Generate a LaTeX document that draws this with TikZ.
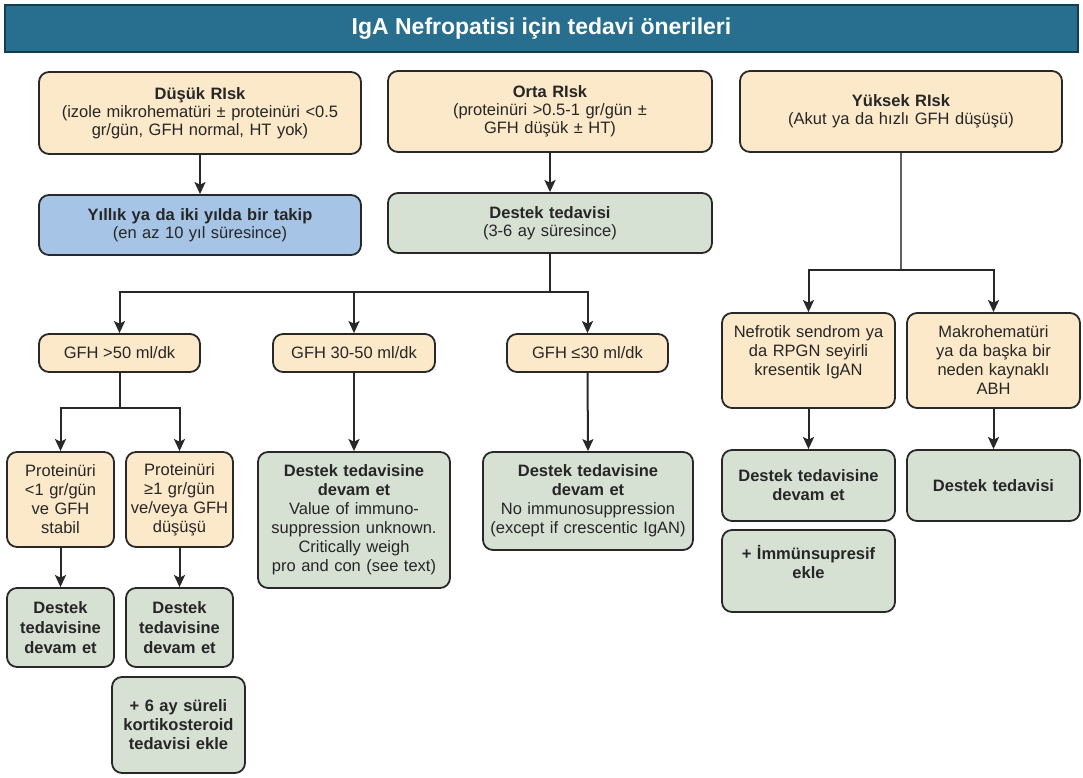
\documentclass[tikz,border=0pt]{standalone}
\usepackage{fontspec}
\setmainfont{Liberation Sans}
\usetikzlibrary{arrows.meta}
\definecolor{titlebg}{RGB}{40,111,143}
\definecolor{peach}{RGB}{252,233,202}
\definecolor{sage}{RGB}{214,225,212}
\definecolor{skyb}{RGB}{166,196,230}
\definecolor{edge}{RGB}{40,40,40}
\definecolor{txt}{RGB}{38,38,38}
\tikzset{
  box/.style={draw=edge, line width=1.8pt, rounded corners=10pt, align=center, inner sep=2pt, text=txt, font=\fontsize{16.5}{19}\selectfont},
  pbox/.style={box, fill=peach},
  gbox/.style={box, fill=sage},
  bbox/.style={box, fill=skyb},
  arr/.style={line width=2pt, draw=edge, -{Stealth[length=12pt,width=11pt,inset=2.5pt]}},
  ln/.style={line width=2pt, draw=edge},
}
\begin{document}
\begin{tikzpicture}[x=1pt,y=-1pt]
\useasboundingbox (0,0) rectangle (1083,778);
% title
\node[fill=titlebg, draw=titlebg!55!black, line width=1.2pt, minimum width=1073pt, minimum height=47pt, text=white, font=\fontsize{23}{25}\selectfont\bfseries] (title) at (541.5,28.5) {IgA Nefropatisi için tedavi önerileri};
% top row
\node[pbox, minimum width=322pt, minimum height=82pt, text width=314pt, font=\fontsize{16.5}{18}\selectfont] (low) at (200,113) {\textbf{Düşük RIsk}\\(izole mikrohematüri ± proteinüri <0.5\\gr/gün, GFH normal, HT yok)};
\node[pbox, minimum width=324pt, minimum height=81pt, text width=314pt, font=\fontsize{16.5}{18}\selectfont] (mid) at (550,111.5) {\textbf{Orta RIsk}\\(proteinüri >0.5-1 gr/gün ±\\GFH düşük ± HT)};
\node[pbox, minimum width=322pt, minimum height=81pt, text width=314pt, font=\fontsize{16.5}{18}\selectfont] (high) at (901,111.5) {\textbf{Yüksek RIsk}\\(Akut ya da hızlı GFH düşüşü)};
% second row
\node[bbox, minimum width=322pt, minimum height=60pt, text width=314pt, font=\fontsize{16.5}{18}\selectfont] (follow) at (200,225) {\textbf{Yıllık ya da iki yılda bir takip}\\(en az 10 yıl süresince)};
\node[gbox, minimum width=324pt, minimum height=60pt, text width=314pt, font=\fontsize{16.5}{18}\selectfont] (support) at (550,223) {\textbf{Destek tedavisi}\\(3-6 ay süresince)};
% GFH row
\node[pbox, minimum width=161pt, minimum height=38pt] (gfh1) at (119.5,353) {GFH >50 ml/dk};
\node[pbox, minimum width=162pt, minimum height=38pt] (gfh2) at (354,353) {GFH 30-50 ml/dk};
\node[pbox, minimum width=161pt, minimum height=38pt] (gfh3) at (587.5,353) {GFH ≤30 ml/dk};
% left branch
\node[pbox, minimum width=105pt, minimum height=95pt, text width=103pt] (p1) at (60.5,499.5) {Proteinüri\\<1 gr/gün\\ve GFH\\stabil};
\node[pbox, minimum width=105pt, minimum height=95pt, text width=103pt] (p2) at (179.5,499.5) {Proteinüri\\≥1 gr/gün\\ve/veya GFH\\düşüşü};
\node[gbox, minimum width=105pt, minimum height=79pt, text width=103pt, font=\fontsize{16.5}{20}\selectfont\bfseries] (d1) at (60.5,627.5) {Destek\\tedavisine\\devam et};
\node[gbox, minimum width=105pt, minimum height=79pt, text width=103pt, font=\fontsize{16.5}{20}\selectfont\bfseries] (d2) at (179.5,627.5) {Destek\\tedavisine\\devam et};
\node[gbox, minimum width=133pt, minimum height=96pt, text width=128pt, font=\fontsize{16.5}{19}\selectfont\bfseries] (cort) at (178.5,725) {+ 6 ay süreli\\kortikosteroid\\tedavisi ekle};
% middle
\node[gbox, minimum width=192pt, minimum height=136pt, text width=188pt] (dm) at (354,520) {\textbf{Destek tedavisine}\\\textbf{devam et}\\Value of immuno-\\suppression unknown.\\Critically weigh\\pro and con (see text)};
\node[gbox, minimum width=210pt, minimum height=98pt, text width=205pt] (dl) at (588,501) {\textbf{Destek tedavisine}\\\textbf{devam et}\\No immunosuppression\\(except if crescentic IgAN)};
% right branch
\node[pbox, minimum width=173pt, minimum height=95pt, text width=168pt] (nef) at (808.5,360.5) {Nefrotik sendrom ya\\da RPGN seyirli\\kresentik IgAN\\\mbox{}};
\node[pbox, minimum width=173pt, minimum height=95pt, text width=168pt] (mak) at (993.5,360.5) {Makrohematüri\\ya da başka bir\\neden kaynaklı\\ABH};
\node[gbox, minimum width=173pt, minimum height=71pt, text width=168pt] (dn) at (808.5,485.5) {\textbf{Destek tedavisine}\\\textbf{devam et}};
\node[gbox, minimum width=173pt, minimum height=82pt, text width=168pt] (imm) at (808.5,571) {\textbf{+ İmmünsupresif}\\\textbf{ekle}\\\mbox{}};
\node[gbox, minimum width=173pt, minimum height=71pt, text width=168pt] (dmk) at (993.5,485.5) {\textbf{Destek tedavisi}};
% junctions
\coordinate (j1) at (550,292);
\coordinate (j2) at (119.5,408);
\coordinate (j3) at (901,270);
% connectors
\draw[arr] (low.south) -- (follow.north);
\draw[arr] (mid.south) -- (support.north);
\draw[ln] (support.south) -- (j1);
\draw[arr] (j1) -| (gfh1.north);
\draw[arr] (j1) -| (gfh3.north);
\draw[arr] (gfh2.north |- j1) -- (gfh2.north);
\draw[ln] (gfh1.south) -- (j2);
\draw[arr] (j2) -| (p1.north);
\draw[arr] (j2) -| (p2.north);
\draw[arr] (p1.south) -- (d1.north);
\draw[arr] (p2.south) -- (d2.north);
\draw[arr] (gfh2.south) -- (dm.north);
\draw[arr] (gfh3.south) -- (dl.north);
\draw[line width=1.4pt, draw=gray!75!black] (high.south) -- (j3);
\draw[arr] (j3) -| (nef.north);
\draw[arr] (j3) -| (mak.north);
\draw[arr] (nef.south) -- (dn.north);
\draw[arr] (mak.south) -- (dmk.north);
\end{tikzpicture}
\end{document}
